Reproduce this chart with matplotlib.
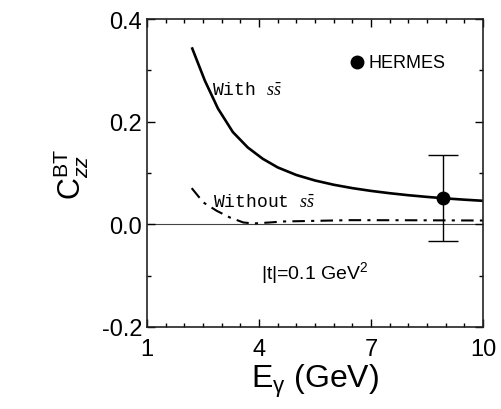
import matplotlib
matplotlib.use("Agg")
import matplotlib.pyplot as plt
import numpy as np

plt.rcParams['font.family'] = ['Liberation Sans', 'DejaVu Sans']
plt.rcParams['mathtext.fontset'] = 'custom'
plt.rcParams['mathtext.rm'] = 'Liberation Sans'
plt.rcParams['mathtext.it'] = 'Liberation Sans:italic'
plt.rcParams['mathtext.sf'] = 'Liberation Sans'
plt.rcParams['mathtext.cal'] = 'Liberation Serif:italic'

# With s-sbar (solid)
e_with = [2.2, 2.55, 2.9, 3.3, 3.7, 4.1, 4.5, 5.0, 5.5, 6.0, 6.5, 7.0, 7.5, 8.0, 8.5, 9.0, 9.5, 10.0]
c_with = [0.345, 0.280, 0.2258, 0.1798, 0.1498, 0.1278, 0.1110, 0.0962, 0.0855, 0.0772, 0.0706,
          0.0652, 0.0607, 0.0568, 0.0535, 0.0506, 0.0481, 0.0459]

# Without s-sbar (dash-dot)
e_wo = [2.197, 2.51, 2.87, 3.22, 3.58, 3.85, 4.29, 4.65, 6.44, 8.0, 10.0]
c_wo = [0.0706, 0.0427, 0.0263, 0.0134, 0.0037, 0.0017, 0.0037, 0.0056, 0.0082, 0.008, 0.0075]

# HERMES data point
hermes_e = [8.92]
hermes_c = [0.051]
hermes_err_hi = [0.084]
hermes_err_lo = [0.083]

xticks = [1, 4, 7, 10]
yticks = [-0.2, 0.0, 0.2, 0.4]
yticklabels = ['-0.2', '0.0', '0.2', '0.4']

fig = plt.figure(figsize=(5.01, 4.10), dpi=100)
ax = fig.add_axes([0.2934, 0.2, 0.6707, 0.751])

ax.axhline(0.0, color='#444444', lw=0.8, zorder=1)
ax.plot(e_with, c_with, color='black', lw=1.9, solid_capstyle='butt', solid_joinstyle='round')
ax.plot(e_wo, c_wo, color='black', lw=1.5, linestyle=(0, (6, 3, 1.5, 3)))
ax.errorbar(hermes_e, hermes_c, yerr=[hermes_err_lo, hermes_err_hi], fmt='o',
            color='black', ms=9, capsize=11, elinewidth=1.0, capthick=1.0)

# legend marker
ax.plot([6.63], [0.316], 'o', color='black', ms=9)
ax.text(6.93, 0.316, 'HERMES', fontsize=13, va='center', ha='left')

ax.text(2.73, 0.262, r'With $\mathcal{s}\bar{\mathcal{s}}$', fontsize=13,
        family=['Liberation Mono', 'DejaVu Sans Mono'], va='center', ha='left')
ax.text(2.78, 0.045, r'Without $\mathcal{s}\bar{\mathcal{s}}$', fontsize=13,
        family=['Liberation Mono', 'DejaVu Sans Mono'], va='center', ha='left')
ax.text(4.05, -0.092, r'|t|=0.1 GeV$^2$', fontsize=14, va='center', ha='left')

ax.set_xlim(1, 10)
ax.set_ylim(-0.2, 0.4)
ax.set_xticks(xticks)
ax.set_xticklabels([str(v) for v in xticks])
ax.set_yticks(yticks)
ax.set_yticklabels(yticklabels)
ax.set_xticks(np.arange(1, 10.01, 0.5), minor=True)
ax.set_yticks(np.arange(-0.2, 0.401, 0.1), minor=True)
ax.tick_params(which='both', direction='in', top=True, right=True, labelsize=17, width=1.0)
ax.tick_params(which='major', length=6)
ax.tick_params(which='minor', length=3)
ax.tick_params(axis='x', pad=8)
for s in ax.spines.values():
    s.set_linewidth(1.2)
    s.set_color('#222222')

ax.set_xlabel(r'E$_{\mathrm{γ}}$ (GeV)', fontsize=23, labelpad=1)
ax.set_ylabel(r'C$^{\rm BT}_{zz}$', fontsize=22, labelpad=8)

fig.savefig('out.png', dpi=100)
